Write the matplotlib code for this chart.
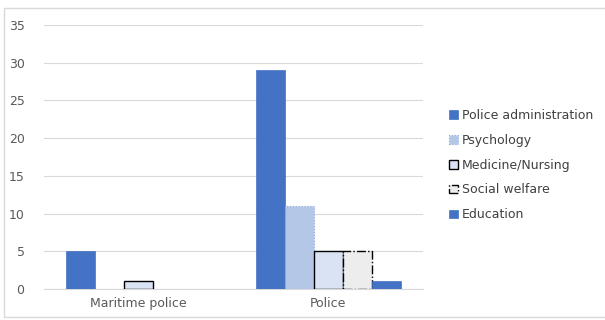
import numpy as np
import matplotlib.pyplot as plt
from matplotlib.patches import Rectangle, Patch

categories = ["Maritime police", "Police"]
series = ["Police administration", "Psychology", "Medicine/Nursing", "Social welfare", "Education"]
police_admin = [5, 29]
psychology = [0, 11]
medicine = [1, 5]
social = [0, 5]
education = [0, 1]
values = [police_admin, psychology, medicine, social, education]

faces = ["#4472C4", "#B4C7E7", "#DAE3F3", "#EDEDED", "#4472C4"]
edges = ["#4472C4", "#8FAADC", "black", "black", "#4472C4"]
styles = ["-", ":", "-", "-.", "-"]
lws = [0.5, 0.8, 1.0, 1.0, 0.5]

fig = plt.figure(figsize=(6.05, 3.2), dpi=100)
fig.patches.append(Rectangle((4/605, 3/320), 1, 309/320, transform=fig.transFigure,
                             fill=False, edgecolor="#d9d9d9", lw=1))
ax = fig.add_axes([44/605, 31/320, 379/605, 264/320])

x = np.arange(len(categories))
w = 0.153
handles = []
for i, v in enumerate(values):
    bars = ax.bar(x + (i - 2) * w, v, w, color=faces[i], edgecolor=edges[i],
                  linestyle=styles[i], linewidth=lws[i], zorder=3)
    for b, val in zip(bars, v):
        if val == 0:
            b.set_visible(False)
    handles.append(Patch(facecolor=faces[i], edgecolor=edges[i], linestyle=styles[i],
                         linewidth=lws[i], label=series[i]))

ax.set_xlim(-0.5, 1.5)
ax.set_ylim(0, 35)
ax.set_yticks(range(0, 36, 5))
ax.set_xticks(x)
ax.set_xticklabels(categories)
ax.grid(axis="y", color="#d9d9d9", lw=0.8, zorder=0)
for s in ["top", "right", "left"]:
    ax.spines[s].set_visible(False)
ax.spines["bottom"].set_color("#d9d9d9")
ax.tick_params(axis="both", length=0, colors="#595959", labelsize=9)
ax.tick_params(axis="y", pad=14)
ax.tick_params(axis="x", pad=6)

ax.legend(handles=handles, loc="center left", bbox_to_anchor=(438/605, 155/320),
          bbox_transform=fig.transFigure, frameon=False, fontsize=9,
          handlelength=0.7, handleheight=0.7, handletextpad=0.3,
          labelspacing=0.95, labelcolor="#404040")

fig.savefig("out.png", dpi=100)
